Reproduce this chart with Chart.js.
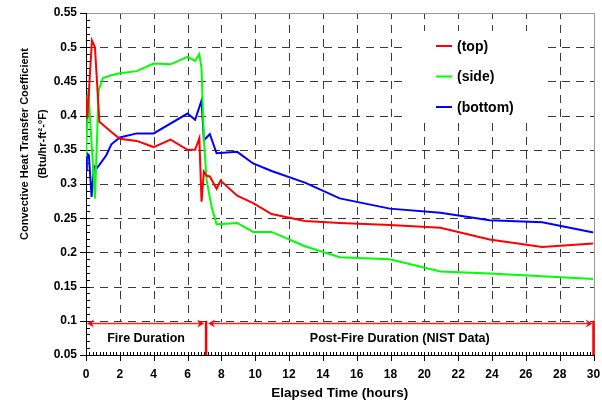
<!DOCTYPE html>
<html>
<head>
<meta charset="utf-8">
<script src="https://cdn.jsdelivr.net/npm/chart.js@4/dist/chart.umd.min.js"></script>
<style>
  html, body { margin: 0; padding: 0; background: #fff; }
  canvas { display: block; }
</style>
</head>
<body>
<canvas id="chart" width="602" height="405"></canvas>
<script>
// Convective heat transfer coefficient vs elapsed time, per surface
const seriesLabels = ['(top)', '(side)', '(bottom)'];

const topHours = [0, 0.08, 0.35, 0.53, 0.79, 1.5, 2, 3, 4, 5, 6, 6.45, 6.7, 6.83, 6.97, 7.13, 7.32, 7.72, 7.95, 8.94, 9.88, 10.97, 12.94, 15, 17.96, 20.95, 23.86, 26.97, 30];
const topValues = [0.43, 0.396, 0.51, 0.50, 0.391, 0.376, 0.366, 0.363, 0.354, 0.365, 0.35, 0.35, 0.367, 0.274, 0.318, 0.312, 0.311, 0.293, 0.305, 0.283, 0.272, 0.256, 0.246, 0.243, 0.24, 0.236, 0.219, 0.208, 0.213];

const sideHours = [0, 0.14, 0.53, 0.75, 1.0, 1.5, 2, 3, 4, 5, 6, 6.45, 6.7, 6.83, 6.97, 7.13, 7.42, 7.72, 8.94, 9.88, 10.97, 12.94, 15, 17.96, 20.95, 23.86, 26.97, 30];
const sideValues = [0.34, 0.437, 0.279, 0.437, 0.455, 0.459, 0.462, 0.465, 0.476, 0.475, 0.486, 0.48, 0.49, 0.469, 0.364, 0.306, 0.267, 0.241, 0.243, 0.23, 0.23, 0.209, 0.193, 0.19, 0.172, 0.169, 0.165, 0.161];

const bottomHours = [0, 0.05, 0.17, 0.33, 0.47, 0.63, 0.79, 1.2, 1.5, 2, 3, 4, 6, 6.45, 6.83, 6.97, 7.13, 7.32, 7.72, 8.94, 9.88, 10.97, 12.94, 15, 17.96, 20.95, 23.86, 26.97, 30];
const bottomValues = [0.32, 0.345, 0.342, 0.281, 0.326, 0.323, 0.328, 0.342, 0.358, 0.368, 0.374, 0.374, 0.403, 0.394, 0.422, 0.364, 0.368, 0.373, 0.345, 0.347, 0.33, 0.319, 0.302, 0.279, 0.264, 0.258, 0.247, 0.244, 0.229];

const seriesColors = ['#ff0000', '#00ff00', '#0000ff'];

// Axes
const xTickValues = [0, 2, 4, 6, 8, 10, 12, 14, 16, 18, 20, 22, 24, 26, 28, 30];
const yTickValues = [0.05, 0.1, 0.15, 0.2, 0.25, 0.3, 0.35, 0.4, 0.45, 0.5, 0.55];
const yTickLabels = ['0.05', '0.1', '0.15', '0.2', '0.25', '0.3', '0.35', '0.4', '0.45', '0.5', '0.55'];
const xMinorStep = 0.2;
const yMinorStep = 0.01;
const xTitle = 'Elapsed Time (hours)';
const yTitleLines = ['Convective Heat Transfer Coefficient', '(Btu/hr-ft\u00B2-\u00B0F)'];

// Fire / post-fire phase markers
const phaseBounds = [0, 7.1, 30];
const phaseLabels = ['Fire Duration', 'Post-Fire Duration (NIST Data)'];
const phaseArrowLevel = 0.097;
const phaseMarkTop = 0.1;
const phaseLabelLevel = 0.0735;

const FONT = "'Liberation Sans', Arial, Helvetica, sans-serif";
const GRID = '#3a3a3a';

function toPoints(xs, ys) {
  return xs.map((x, i) => ({ x: x, y: ys[i] }));
}

const datasets = [
  [topHours, topValues],
  [sideHours, sideValues],
  [bottomHours, bottomValues]
].map(([xs, ys], i) => ({
  label: seriesLabels[i],
  data: toPoints(xs, ys),
  borderColor: seriesColors[i],
  backgroundColor: seriesColors[i],
  borderWidth: 2,
  pointRadius: 0,
  tension: 0,
  fill: false
}));

function arrowHead(ctx, tx, y, dir) {
  ctx.beginPath();
  ctx.moveTo(tx, y);
  ctx.lineTo(tx - dir * 7, y - 4);
  ctx.lineTo(tx - dir * 4.5, y);
  ctx.lineTo(tx - dir * 7, y + 4);
  ctx.closePath();
  ctx.fill();
}

const near = (a, b) => Math.abs(a - b) < 1e-9;

// hairlines as 1px rectangles (crisp on the pixel grid)
function hRule(ctx, x0, x1, y, dash) {
  if (!dash) { ctx.fillRect(x0, y, x1 - x0, 1); return; }
  for (let p = x0; p < x1; p += dash[0] + dash[1]) {
    ctx.fillRect(p, y, Math.min(dash[0], x1 - p), 1);
  }
}
function vRule(ctx, x, y0, y1, dash) {
  if (!dash) { ctx.fillRect(x, y0, 1, y1 - y0); return; }
  for (let p = y1; p > y0; p -= dash[0] + dash[1]) {
    const len = Math.min(dash[0], p - y0);
    ctx.fillRect(x, p - len, 1, len);
  }
}

// Grid, legend backdrop, frame and tick marks: painted before the series lines
function drawFrame(chart) {
  const { ctx, chartArea: a, scales: { x, y } } = chart;
  const L = Math.round(a.left), R = Math.round(a.right);
  const T = Math.round(a.top), B = Math.round(a.bottom);
  const dash = [8, 6];
  ctx.save();
  ctx.fillStyle = GRID;
  xTickValues.forEach(v => {
    if (near(v, x.min) || near(v, x.max)) return;
    vRule(ctx, Math.round(x.getPixelForValue(v)), T, B, dash);
  });
  yTickValues.forEach(v => {
    if (near(v, y.min) || near(v, y.max)) return;
    hRule(ctx, L, R, Math.round(y.getPixelForValue(v)), dash);
  });
  // white backdrops: legend box and the phase annotation band
  ctx.fillStyle = '#fff';
  ctx.fillRect(402, 31, 144, 91);
  const bandTop = Math.round(y.getPixelForValue(phaseMarkTop)) + 1;
  ctx.fillRect(L + 1, bandTop, R - L - 1, B - bandTop);
  ctx.fillStyle = '#999';
  hRule(ctx, L, R + 1, T);
  vRule(ctx, R, T, B + 1);
  ctx.fillStyle = '#000';
  vRule(ctx, L, T, B + 1);
  hRule(ctx, L, R + 1, B);
  xTickValues.forEach(v => vRule(ctx, Math.round(x.getPixelForValue(v)), B, B + 6));
  yTickValues.forEach(v => hRule(ctx, L - 6, L, Math.round(y.getPixelForValue(v))));
  const nx = Math.round((x.max - x.min) / xMinorStep);
  for (let i = 1; i < nx; i++) {
    vRule(ctx, Math.round(x.getPixelForValue(x.min + i * xMinorStep)), B - 3, B);
  }
  const ny = Math.round((y.max - y.min) / yMinorStep);
  for (let i = 1; i < ny; i++) {
    hRule(ctx, L, L + 4, Math.round(y.getPixelForValue(y.min + i * yMinorStep)));
  }
  ctx.restore();
}

let framePainted = false;

const decorations = {
  id: 'decorations',
  beforeDraw() { framePainted = false; },
  beforeDatasetDraw(chart) {
    if (!framePainted) {
      framePainted = true;
      drawFrame(chart);
    }
  },
  afterDatasetsDraw(chart) {
    const { ctx, chartArea: a, scales: { x, y } } = chart;
    if (!framePainted) { framePainted = true; drawFrame(chart); }
    ctx.save();
    // phase arrows
    const ay = Math.round(y.getPixelForValue(phaseArrowLevel)) + 0.5;
    ctx.strokeStyle = '#ff2020';
    ctx.fillStyle = '#ff0000';
    ctx.lineWidth = 1.5;
    for (let i = 0; i < phaseBounds.length - 1; i++) {
      const x0 = x.getPixelForValue(phaseBounds[i]) + (i === 0 ? 1 : 2);
      const x1 = x.getPixelForValue(phaseBounds[i + 1]) - (i === phaseBounds.length - 2 ? 1 : 2);
      ctx.beginPath();
      ctx.moveTo(x0 + 4, ay);
      ctx.lineTo(x1 - 4, ay);
      ctx.stroke();
      arrowHead(ctx, x0, ay, -1);
      arrowHead(ctx, x1, ay, 1);
    }
    // phase boundary bars
    ctx.strokeStyle = '#ff0000';
    ctx.lineWidth = 2.5;
    const barTop = y.getPixelForValue(phaseMarkTop);
    for (let i = 1; i < phaseBounds.length; i++) {
      const bx = x.getPixelForValue(phaseBounds[i]);
      ctx.beginPath();
      ctx.moveTo(bx, barTop);
      ctx.lineTo(bx, a.bottom);
      ctx.stroke();
    }
    // phase labels
    ctx.fillStyle = '#000';
    ctx.font = 'bold 12.5px ' + FONT;
    ctx.textAlign = 'center';
    ctx.textBaseline = 'middle';
    const ly = y.getPixelForValue(phaseLabelLevel);
    for (let i = 0; i < phaseLabels.length; i++) {
      const cx = x.getPixelForValue((phaseBounds[i] + phaseBounds[i + 1]) / 2);
      ctx.fillText(phaseLabels[i], cx, ly);
    }
    // legend
    ctx.font = 'bold 14px ' + FONT;
    ctx.textAlign = 'left';
    chart.data.datasets.forEach((ds, i) => {
      const yy = 46 + i * 30.5;
      ctx.strokeStyle = ds.borderColor;
      ctx.lineWidth = 2;
      ctx.beginPath();
      ctx.moveTo(436, yy);
      ctx.lineTo(452, yy);
      ctx.stroke();
      ctx.fillStyle = '#000';
      ctx.fillText(ds.label, 457, yy + 1);
    });
    // axis titles
    ctx.font = 'bold 13.5px ' + FONT;
    ctx.textAlign = 'center';
    ctx.fillText(xTitle, (a.left + a.right) / 2, 393);
    ctx.font = 'bold 11px ' + FONT;
    ctx.translate(0, 144);
    ctx.rotate(-Math.PI / 2);
    ctx.fillText(yTitleLines[0], 0, 25);
    ctx.fillText(yTitleLines[1], 0, 43);
    ctx.restore();
  }
};

new Chart(document.getElementById('chart'), {
  type: 'line',
  data: { datasets: datasets },
  options: {
    responsive: false,
    animation: false,
    events: [],
    layout: { padding: { left: 0, top: 13, right: 8.5, bottom: 0 } },
    plugins: { legend: { display: false }, tooltip: { enabled: false } },
    scales: {
      x: {
        type: 'linear',
        min: 0,
        max: 30,
        afterBuildTicks: s => { s.ticks = xTickValues.map(v => ({ value: v })); },
        afterFit: s => { s.height = 50; s.paddingLeft = 0; s.paddingRight = 0; },
        ticks: {
          color: '#000',
          font: { family: FONT, size: 12, weight: 'bold' },
          padding: 7,
          maxRotation: 0,
          autoSkip: false
        },
        grid: { display: true, drawOnChartArea: false, drawTicks: true, tickLength: 5, tickColor: 'rgba(0,0,0,0)' },
        border: { display: false }
      },
      y: {
        type: 'linear',
        min: 0.05,
        max: 0.55,
        afterBuildTicks: s => { s.ticks = yTickValues.map(v => ({ value: v })); },
        afterFit: s => { s.width = 86; s.paddingTop = 0; s.paddingBottom = 0; },
        ticks: {
          color: '#000',
          font: { family: FONT, size: 12, weight: 'bold' },
          padding: 4,
          autoSkip: false,
          callback: (v, i) => yTickLabels[i]
        },
        grid: { display: true, drawOnChartArea: false, drawTicks: true, tickLength: 5, tickColor: 'rgba(0,0,0,0)' },
        border: { display: false }
      }
    }
  },
  plugins: [decorations]
});
</script>
</body>
</html>
